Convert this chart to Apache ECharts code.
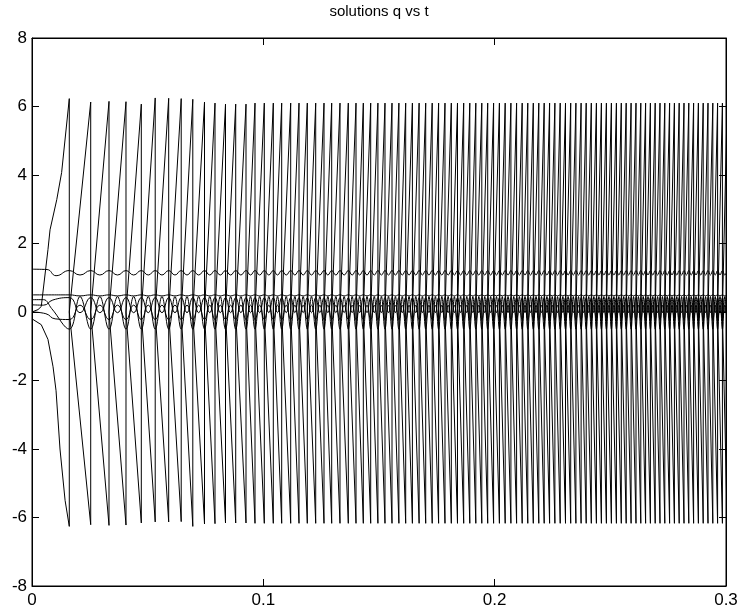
<!DOCTYPE html>
<html>
<head>
<meta charset="utf-8">
<script src="https://cdn.jsdelivr.net/npm/echarts/dist/echarts.min.js"></script>
<style>html,body{margin:0;padding:0;background:#fff;}#c{width:743px;height:613px;}</style>
</head>
<body>
<div id="c"></div>
<script>
const chartTitle = 'solutions q vs t';
const xTicks = [0, 0.1, 0.2, 0.3];
const yTicks = [-8, -6, -4, -2, 0, 2, 4, 6, 8];

// times at which the two wrapping angles jump
const wrapTimes = [0.01612,0.02538,0.03329,0.04063,0.04725,0.05326,0.05909,0.06450,0.06951,0.07457,
0.07911,0.08365,0.08806,0.09251,0.09640,0.10042,0.10431,0.10794,0.11183,0.11542,
0.11901,0.12264,0.12623,0.12955,0.13314,0.13673,0.14006,0.14322,0.14641,0.14953,
0.15259,0.15562,0.15860,0.16154,0.16444,0.16734,0.17019,0.17300,0.17577,0.17853,
0.18126,0.18393,0.18661,0.18925,0.19185,0.19444,0.19699,0.19954,0.20205,0.20455,
0.20702,0.20948,0.21190,0.21432,0.21670,0.21908,0.22141,0.22375,0.22604,0.22833,
0.23062,0.23287,0.23512,0.23737,0.23957,0.24178,0.24398,0.24614,0.24830,0.25046,
0.25263,0.25474,0.25686,0.25898,0.26110,0.26317,0.26525,0.26732,0.26940,0.27147,
0.27355,0.27562,0.27770,0.27977,0.28185,0.28392,0.28600,0.28807,0.29015,0.29222,
0.29430,0.29637,0.29845,0.30052];

// peak heights of rising angle, trough depths of falling angle
const topEarly = [6.23,6.13,6.15,6.14,6.07,6.25,6.24,6.23,6.21,6.13,6.10,6.07,6.07,6.07];
const topLate = 6.10;
const bottomEarly = [-6.26,-6.21,-6.23,-6.22,-6.16,-6.13,-6.13,-6.12,-6.26,-6.19,-6.18,-6.16,-6.16,-6.16];
const bottomLate = -6.17;
const riseStart = [[0,0.0],[0.0026,0.07],[0.0040,0.16],[0.0069,1.82],[0.0078,2.4],[0.0107,3.28],[0.0128,4.07]];
const fallStart = [[0,-0.2],[0.0040,-0.37],[0.0069,-0.8],[0.0091,-1.6],[0.0104,-2.3],[0.0121,-4.0],[0.0143,-5.5]];

// slowly varying coordinates: start segment, value at jump times, value half way between
const cStart = [[0,1.25],[0.0065,1.24],[0.0104,1.06]];
const cAtWrap = 1.21, cAtMid = 1.08;
const dStart = [[0,0.5],[0.007,0.5]];
const dAtWrap = 0.5, dAtMid = 0.47;
const eStart = [[0,0.36],[0.005,0.36],[0.0085,0.1]];
const eAtWrap = -0.5, eAtMid = 0.45;
const fStart = [[0,0.21],[0.005,0.2],[0.009,0.35]];
const fAtWrap = 0.42, fAtMid = -0.02;
const gStart = [[0,0.0],[0.006,-0.05],[0.01,-0.2]];
const gAtWrap = -0.22, gAtMid = 0.2;

function saw(start, early, late) {
  const d = start.slice();
  for (let i = 0; i < wrapTimes.length; i++) {
    const h = i < early.length ? early[i] : late;
    d.push([wrapTimes[i], h]);
    d.push([wrapTimes[i], 0]);
  }
  return d;
}
function wave(start, atWrap, atMid) {
  const d = start.slice();
  for (let i = 0; i < wrapTimes.length; i++) {
    d.push([wrapTimes[i], atWrap]);
    if (i + 1 < wrapTimes.length) d.push([(wrapTimes[i] + wrapTimes[i + 1]) / 2, atMid]);
  }
  return d;
}

const lineBase = {type: 'line', showSymbol: false, symbol: 'none', animation: false, sampling: null,
  lineStyle: {color: '#000', width: 1}, clip: true};
const series = [
  Object.assign({}, lineBase, {data: saw(riseStart, topEarly, topLate)}),
  Object.assign({}, lineBase, {data: saw(fallStart, bottomEarly, bottomLate)}),
  Object.assign({}, lineBase, {smooth: 0.5, data: wave(cStart, cAtWrap, cAtMid)}),
  Object.assign({}, lineBase, {smooth: 0.5, data: wave(dStart, dAtWrap, dAtMid)}),
  Object.assign({}, lineBase, {smooth: 0.4, data: wave(eStart, eAtWrap, eAtMid)}),
  Object.assign({}, lineBase, {smooth: 0.5, data: wave(fStart, fAtWrap, fAtMid)}),
  Object.assign({}, lineBase, {smooth: 0.5, data: wave(gStart, gAtWrap, gAtMid)})
];

const font = 'Liberation Sans, Arial, Helvetica, sans-serif';
const chart = echarts.init(document.getElementById('c'), null, {renderer: 'canvas'});
function axisCommon() {
  return {
    axisLine: {show: true, onZero: false, lineStyle: {color: '#000', width: 1}},
    axisTick: {show: true, inside: true, length: 7, lineStyle: {color: '#000', width: 1}},
    splitLine: {show: false}
  };
}
chart.setOption({
  backgroundColor: '#fff',
  animation: false,
  title: {text: chartTitle, left: 379, top: 4, textAlign: 'center', padding: 0,
    textStyle: {fontFamily: font, fontSize: 15, fontWeight: 'normal', color: '#000'}},
  grid: {left: 32, right: 17, top: 38, bottom: 27, containLabel: false,
    show: true, borderColor: '#000', borderWidth: 1, backgroundColor: 'transparent'},
  xAxis: [
    Object.assign(axisCommon(), {type: 'value', position: 'bottom', min: xTicks[0], max: xTicks[xTicks.length - 1], interval: 0.1,
      axisLabel: {color: '#000', fontFamily: font, fontSize: 17, margin: 6,
        formatter: v => { const t = xTicks.find(x => Math.abs(x - v) < 1e-9); return t === undefined ? '' : String(t); }}}),
    Object.assign(axisCommon(), {type: 'value', position: 'top', min: xTicks[0], max: xTicks[xTicks.length - 1], interval: 0.1,
      axisLabel: {show: false}})
  ],
  yAxis: [
    Object.assign(axisCommon(), {type: 'value', position: 'left', min: yTicks[0], max: yTicks[yTicks.length - 1], interval: 2,
      axisLabel: {color: '#000', fontFamily: font, fontSize: 17, margin: 5}}),
    Object.assign(axisCommon(), {type: 'value', position: 'right', min: yTicks[0], max: yTicks[yTicks.length - 1], interval: 2,
      axisLabel: {show: false}})
  ],
  series: series
});
</script>
</body>
</html>
